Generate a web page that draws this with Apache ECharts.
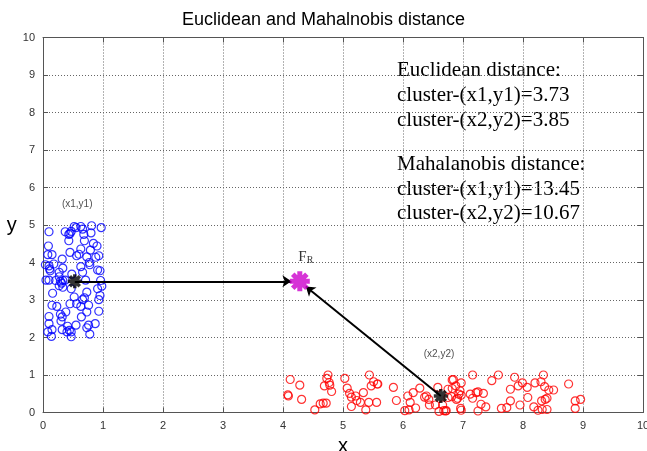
<!DOCTYPE html>
<html>
<head>
<meta charset="utf-8">
<script src="https://cdn.jsdelivr.net/npm/echarts@6/dist/echarts.min.js"></script>
<style>
  html, body { margin: 0; padding: 0; background: #fff; }
  #main { width: 647px; height: 451px; }
</style>
</head>
<body>
<div id="main"></div>
<script>
// cluster 1 (blue)
const cluster1 = [
  [0.10,4.82],[0.37,4.82],[0.43,4.75],[0.52,4.96],[0.55,4.93],[0.63,4.96],[0.66,4.89],
  [0.45,4.77],[0.47,4.83],[0.68,4.75],[0.81,4.98],[0.97,4.93],[0.80,4.79],[0.43,4.58],
  [0.69,4.58],[0.84,4.51],[0.09,4.44],[0.90,4.44],[0.79,4.33],[0.63,4.36],[0.60,4.22],
  [0.45,4.27],[0.56,4.18],[0.08,4.21],[0.15,4.21],[0.93,4.18],[0.88,4.14],[0.73,4.15],
  [0.32,4.09],[0.77,4.00],[0.78,3.94],[0.63,3.89],[0.04,3.94],[0.10,3.91],[0.18,3.96],
  [0.11,3.83],[0.12,3.78],[0.33,3.85],[0.91,3.80],[0.95,3.78],[0.27,3.74],[0.48,3.69],
  [0.66,3.74],[0.27,3.62],[0.05,3.53],[0.10,3.53],[0.21,3.52],[0.29,3.50],[0.33,3.52],
  [0.37,3.53],[0.31,3.45],[0.71,3.53],[0.96,3.52],[0.98,3.37],[0.91,3.30],[0.33,3.34],
  [0.27,3.38],[0.47,3.30],[0.16,3.18],[0.73,3.21],[0.95,3.12],[0.52,3.08],[0.66,3.01],
  [0.69,3.06],[0.93,3.01],[0.15,2.86],[0.23,2.83],[0.45,2.90],[0.56,2.90],[0.63,2.83],
  [0.76,2.86],[0.73,2.68],[0.93,2.70],[0.38,2.68],[0.29,2.62],[0.32,2.55],[0.10,2.56],
  [0.30,2.44],[0.10,2.37],[0.64,2.55],[0.76,2.33],[0.87,2.37],[0.73,2.26],[0.55,2.33],
  [0.41,2.30],[0.32,2.21],[0.44,2.19],[0.47,2.15],[0.15,2.21],[0.08,2.15],[0.14,2.03],
  [0.78,2.09],[0.47,2.02],[0.40,2.15]
];

// cluster 2 (red)
const cluster2 = [
  [4.12,0.88],[4.28,0.73],[4.08,0.47],[4.09,0.44],[4.31,0.35],[4.53,0.07],[4.62,0.23],
  [4.67,0.25],[4.72,0.25],[4.75,1.00],[4.73,0.91],[4.77,0.80],[4.69,0.71],[4.78,0.73],
  [4.81,0.56],[5.03,0.91],[5.07,0.65],[5.11,0.51],[5.14,0.41],[5.21,0.44],[5.23,0.32],
  [5.29,0.27],[5.14,0.16],[5.34,0.53],[5.44,1.00],[5.47,0.71],[5.51,0.82],[5.57,0.76],
  [5.58,0.76],[5.43,0.27],[5.56,0.27],[5.38,0.07],[5.84,0.67],[5.89,0.32],[6.03,0.05],
  [6.10,0.07],[6.21,0.12],[6.08,0.44],[6.17,0.53],[6.12,0.27],[6.28,0.65],[6.36,0.41],
  [6.39,0.44],[6.43,0.35],[6.44,0.20],[6.54,0.20],[6.58,0.67],[6.60,0.03],[6.66,0.20],
  [6.68,0.05],[6.72,0.05],[6.75,0.62],[6.82,0.87],[6.81,0.42],[6.89,0.35],[6.88,0.71],
  [6.84,0.88],[6.82,0.64],[6.97,0.79],[6.95,0.58],[6.93,0.49],[6.97,0.46],[6.91,0.38],
  [6.75,0.40],[6.96,0.11],[6.97,0.06],[6.71,0.04],[7.16,1.00],[7.12,0.49],[7.16,0.38],
  [7.22,0.53],[7.25,0.55],[7.34,0.51],[7.30,0.22],[7.38,0.15],[7.25,0.04],[7.48,0.85],
  [7.59,1.00],[7.64,0.11],[7.73,0.13],[7.79,0.62],[7.79,0.31],[7.86,0.94],[7.95,0.20],
  [7.92,0.71],[7.99,0.79],[8.07,0.67],[8.08,0.40],[8.18,0.15],[8.20,0.79],[8.25,0.06],
  [8.30,0.82],[8.34,1.00],[8.36,0.69],[8.31,0.31],[8.37,0.35],[8.40,0.38],[8.32,0.08],
  [8.40,0.08],[8.43,0.60],[8.51,0.60],[8.76,0.76],[8.87,0.31],[8.96,0.35],[8.87,0.11]
];

const centers = [[0.53, 3.50], [6.63, 0.44]];
const fr = [4.28, 3.50];
// arrow tips stop just short of F_R
const arrows = [
  [[0.53, 3.50], [4.14, 3.50]],
  [[6.63, 0.44], [4.38, 3.36]]
];
const pointLabels = [
  { name: '(x1,y1)', value: [0.57, 5.55] },
  { name: '(x2,y2)', value: [6.60, 1.55] }
];
const textLines = [
  'Euclidean distance:',
  'cluster-(x1,y1)=3.73',
  'cluster-(x2,y2)=3.85',
  'Mahalanobis distance:',
  'cluster-(x1,y1)=13.45',
  'cluster-(x2,y2)=10.67'
];
const textMid = [71, 96, 121, 165, 190, 214];

// asterisk made of four filled bars
const star = 'path://M0 7.5H20V12.5H0Z M7.5 0H12.5V20H7.5Z ' +
  'M1.16 4.70L4.70 1.16L18.84 15.30L15.30 18.84Z ' +
  'M4.70 18.84L1.16 15.30L15.30 1.16L18.84 4.70Z';

var chartDom = document.getElementById('main');
var myChart = echarts.init(chartDom);

const axisCol = '#555';
function baseAxis(pos, showLabel) {
  return {
    type: 'value', min: 0, max: 10, interval: 1, position: pos,
    axisLine: { show: true, onZero: false, lineStyle: { color: axisCol, width: 1 } },
    axisTick: { show: true, inside: true, length: 5, lineStyle: { color: axisCol } },
    axisLabel: {
      show: showLabel, color: '#333', fontSize: 11, fontFamily: 'Liberation Sans',
      margin: 8
    },
    splitLine: { show: showLabel, lineStyle: { color: '#666', type: [1, 2], width: 1 } }
  };
}

var option = {
  backgroundColor: '#fff',
  animation: false,
  title: {
    text: 'Euclidean and Mahalnobis distance',
    left: 'center', top: 6,
    textStyle: { fontFamily: 'Liberation Sans', fontSize: 18, fontWeight: 'normal', color: '#000' }
  },
  grid: { left: 43, right: 4, top: 37.5, bottom: 38.5, outerBoundsMode: 'none', containLabel: false },
  xAxis: [
    Object.assign(baseAxis('bottom', true), {
      name: 'x', nameLocation: 'middle', nameGap: 17,
      nameTextStyle: { fontFamily: 'Liberation Sans', fontSize: 20, color: '#000' }
    }),
    baseAxis('top', false)
  ],
  yAxis: [
    Object.assign(baseAxis('left', true), {
      name: 'y', nameLocation: 'middle', nameGap: 23, nameRotate: 0,
      nameTextStyle: { fontFamily: 'Liberation Sans', fontSize: 20, color: '#000' }
    }),
    baseAxis('right', false)
  ],
  series: [
    {
      type: 'scatter', data: cluster1, symbol: 'circle', symbolSize: 8,
      itemStyle: { color: 'transparent', borderColor: '#0000ff', borderWidth: 1.2 }
    },
    {
      type: 'scatter', data: cluster2, symbol: 'circle', symbolSize: 8,
      itemStyle: { color: 'transparent', borderColor: '#ff0000', borderWidth: 1.2 }
    },
    {
      type: 'lines', coordinateSystem: 'cartesian2d', data: arrows.map(a => ({ coords: a })),
      symbol: ['none', 'arrow'], symbolSize: 9,
      lineStyle: { color: '#000', width: 2, opacity: 1 }, z: 3
    },
    {
      type: 'scatter', data: centers, symbol: star, symbolSize: 14,
      itemStyle: { color: '#000' }, z: 4
    },
    {
      type: 'scatter', data: [fr], symbol: star, symbolSize: 20,
      itemStyle: { color: '#cc00cc' }, z: 4
    },
    {
      type: 'scatter', data: pointLabels, symbolSize: 0,
      label: {
        show: true, position: 'inside', formatter: '{b}',
        fontFamily: 'Liberation Sans', fontSize: 10, color: '#222'
      }
    },
    {
      type: 'scatter', data: [{ value: [4.38, 4.15] }], symbolSize: 0,
      label: {
        show: true, position: 'inside', formatter: '{a|F}{b|R}',
        rich: {
          a: { fontFamily: 'Liberation Serif', fontSize: 15, color: '#000' },
          b: { fontFamily: 'Liberation Serif', fontSize: 10, color: '#000', verticalAlign: 'bottom', padding: [6, 0, 0, 0] }
        }
      }
    }
  ],
  graphic: textLines.map((t, i) => ({
    type: 'text', left: 397, top: textMid[i] - 11,
    style: { text: t, font: '21px "Liberation Serif"', fill: '#000' }
  }))
};

myChart.setOption(option);
</script>
</body>
</html>
